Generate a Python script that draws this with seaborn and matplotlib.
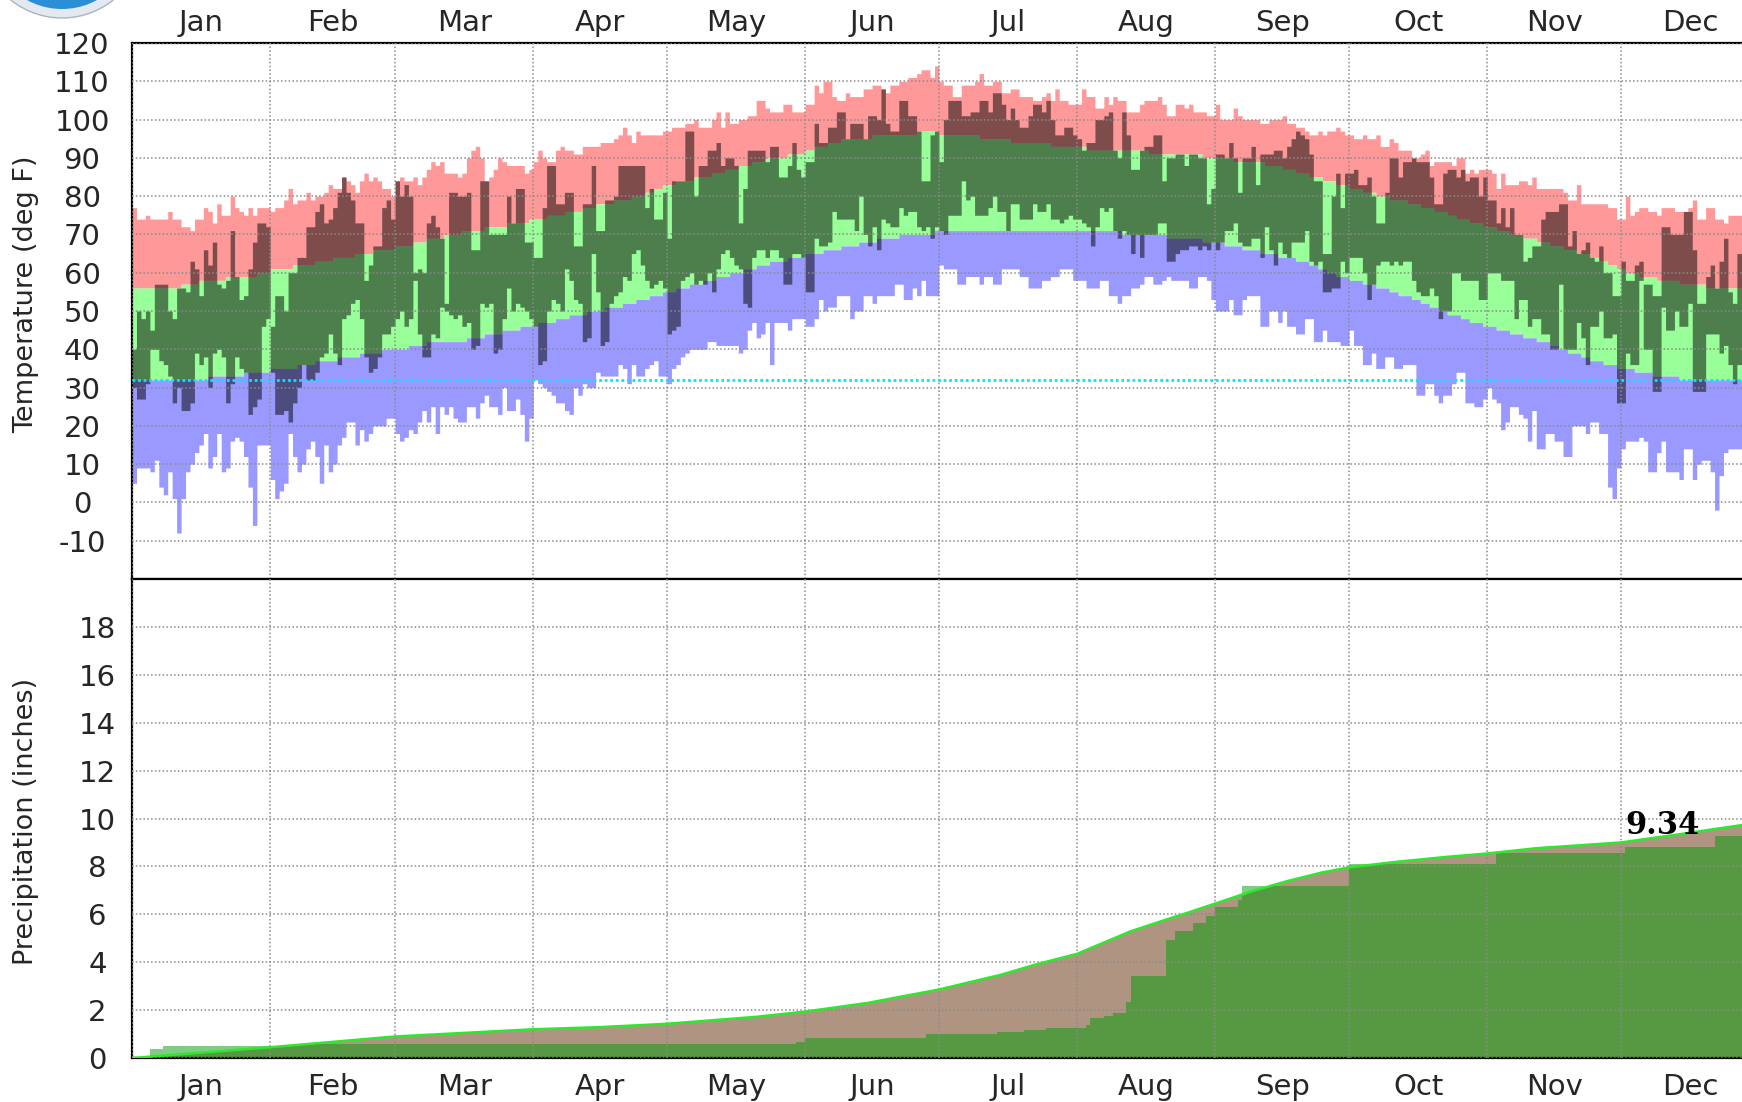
import numpy as np
import matplotlib
matplotlib.use("Agg")
import matplotlib.pyplot as plt
from matplotlib.patches import Ellipse
import seaborn as sns

months = ["Jan", "Feb", "Mar", "Apr", "May", "Jun", "Jul", "Aug", "Sep", "Oct", "Nov", "Dec"]
month_len = [31, 28, 31, 30, 31, 30, 31, 31, 30, 31, 30, 31]

# daily values, Jan 1 .. Dec 28 (deg F), one row per month
record_high = [
    77, 74, 74, 75, 74, 74, 74, 74, 76, 74, 74, 72, 72, 71, 74, 74, 77, 76, 73, 78, 75, 75, 80, 77, 76, 75, 77, 75, 77, 77, 77,
    76, 77, 77, 79, 82, 78, 79, 79, 81, 79, 80, 80, 81, 83, 82, 82, 85, 84, 83, 81, 84, 86, 84, 85, 84, 82, 82, 80,
    84, 85, 84, 84, 85, 83, 85, 87, 89, 88, 89, 86, 86, 86, 85, 86, 90, 92, 93, 90, 84, 85, 87, 90, 89, 88, 88, 88, 88, 86, 87,
    89, 92, 90, 89, 89, 92, 93, 92, 92, 91, 91, 93, 93, 93, 93, 94, 94, 94, 95, 96, 98, 96, 94, 97, 96, 96, 96, 96, 96, 97,
    97, 98, 98, 98, 99, 99, 100, 98, 98, 98, 100, 102, 98, 102, 99, 99, 100, 100, 101, 101, 105, 105, 103, 102, 102, 102, 104, 104, 102, 102, 102,
    104, 104, 109, 107, 110, 110, 106, 105, 105, 107, 106, 106, 106, 108, 108, 109, 109, 108, 107, 109, 109, 110, 110, 111, 111, 112, 113, 113, 111, 114,
    110, 109, 109, 106, 106, 109, 109, 109, 110, 112, 109, 109, 110, 110, 107, 107, 108, 108, 106, 106, 106, 105, 105, 106, 107, 105, 108, 105, 105, 104, 104,
    104, 108, 106, 106, 103, 103, 106, 104, 106, 105, 105, 102, 102, 102, 104, 105, 105, 105, 106, 104, 101, 101, 104, 104, 103, 104, 102, 102, 102, 101, 101,
    104, 100, 100, 100, 103, 101, 100, 100, 100, 100, 99, 99, 100, 100, 100, 101, 99, 99, 98, 98, 97, 96, 96, 97, 96, 97, 97, 98, 97, 96,
    96, 95, 95, 96, 95, 95, 96, 93, 93, 95, 94, 92, 92, 92, 90, 90, 91, 92, 88, 89, 89, 89, 89, 88, 90, 90, 86, 87, 86, 87, 87,
    87, 86, 82, 86, 83, 83, 83, 84, 84, 83, 85, 82, 82, 82, 82, 82, 82, 81, 79, 79, 83, 78, 78, 78, 78, 78, 78, 77, 77, 74,
    74, 80, 75, 76, 77, 77, 76, 76, 75, 77, 77, 77, 76, 76, 76, 77, 79, 74, 74, 77, 77, 74, 74, 73, 75, 75, 75, 75,
]
actual_high = [
    40, 50, 48, 50, 45, 57, 57, 57, 50, 48, 56, 56, 55, 63, 61, 54, 66, 62, 68, 57, 56, 58, 71, 59, 53, 54, 61, 68, 73, 73, 72,
    46, 54, 54, 50, 60, 60, 64, 64, 72, 72, 76, 78, 73, 74, 77, 81, 85, 81, 79, 73, 73, 58, 62, 67, 67, 77, 79, 74,
    84, 80, 83, 80, 60, 61, 60, 73, 75, 72, 69, 52, 81, 81, 80, 80, 81, 66, 66, 84, 84, 70, 70, 70, 70, 80, 73, 82, 82, 68, 68,
    64, 64, 77, 88, 88, 78, 78, 81, 81, 67, 67, 78, 78, 88, 71, 71, 79, 79, 80, 88, 88, 88, 88, 88, 88, 77, 82, 74, 74, 81,
    69, 84, 84, 84, 97, 97, 80, 88, 88, 92, 92, 94, 88, 90, 90, 88, 73, 82, 92, 92, 92, 92, 89, 93, 93, 85, 85, 88, 94, 87, 85,
    89, 89, 99, 94, 94, 98, 98, 102, 102, 95, 99, 99, 99, 95, 101, 101, 100, 108, 99, 97, 97, 105, 105, 101, 101, 97, 84, 84, 96, 97,
    89, 100, 105, 105, 105, 101, 101, 102, 102, 105, 105, 102, 107, 107, 104, 100, 103, 100, 98, 98, 101, 104, 104, 102, 105, 100, 96, 96, 98, 98, 96,
    95, 92, 94, 94, 100, 100, 101, 102, 92, 90, 102, 96, 87, 87, 92, 93, 93, 96, 96, 84, 90, 90, 91, 91, 88, 91, 91, 90, 90, 78, 82,
    91, 91, 90, 94, 90, 81, 90, 90, 93, 83, 91, 91, 91, 92, 92, 90, 93, 95, 97, 96, 95, 91, 84, 84, 65, 65, 80, 86, 77, 86,
    86, 87, 83, 83, 85, 80, 73, 73, 81, 90, 90, 85, 89, 89, 90, 89, 89, 89, 85, 78, 78, 86, 87, 87, 85, 87, 84, 85, 85, 80, 85,
    79, 79, 73, 77, 72, 77, 70, 70, 63, 64, 67, 67, 74, 76, 76, 76, 78, 78, 67, 71, 65, 66, 68, 64, 63, 67, 60, 60, 54, 54,
    63, 58, 58, 62, 63, 57, 57, 54, 54, 72, 72, 70, 70, 70, 76, 76, 66, 52, 52, 59, 62, 56, 63, 69, 55, 52, 65, 65,
]
actual_low = [
    30, 27, 27, 31, 40, 40, 37, 36, 33, 26, 30, 24, 24, 26, 39, 36, 38, 30, 39, 40, 38, 26, 31, 38, 35, 34, 23, 25, 27, 46, 48,
    34, 23, 23, 24, 21, 26, 30, 36, 32, 32, 34, 38, 39, 44, 39, 36, 48, 49, 52, 53, 48, 38, 34, 35, 38, 44, 44, 46,
    48, 50, 46, 48, 58, 44, 38, 38, 44, 43, 51, 50, 49, 48, 49, 46, 47, 40, 41, 52, 51, 52, 39, 40, 48, 56, 50, 52, 51, 50, 48,
    46, 36, 37, 50, 53, 52, 50, 61, 58, 53, 52, 42, 43, 65, 55, 41, 42, 52, 54, 55, 59, 58, 65, 66, 62, 58, 56, 57, 58, 56,
    44, 45, 46, 58, 59, 60, 57, 58, 57, 60, 55, 61, 65, 66, 64, 62, 61, 52, 51, 64, 66, 66, 64, 66, 66, 64, 57, 57, 65, 65, 64,
    55, 55, 69, 67, 67, 68, 76, 74, 74, 74, 74, 71, 80, 70, 67, 72, 66, 74, 73, 72, 72, 77, 75, 76, 76, 72, 71, 72, 69, 72,
    71, 70, 75, 75, 75, 84, 79, 80, 75, 75, 75, 77, 80, 76, 76, 71, 78, 78, 74, 74, 74, 78, 76, 76, 78, 74, 74, 73, 74, 75, 74,
    74, 73, 72, 67, 72, 77, 76, 77, 71, 69, 71, 70, 65, 70, 64, 70, 70, 70, 73, 73, 63, 63, 65, 66, 66, 67, 67, 66, 67, 66, 68,
    66, 68, 71, 71, 73, 68, 67, 67, 69, 69, 64, 72, 66, 62, 68, 65, 64, 68, 68, 68, 71, 63, 62, 63, 55, 55, 56, 56, 63, 60,
    64, 64, 64, 60, 53, 57, 62, 63, 63, 62, 63, 62, 63, 63, 58, 55, 54, 54, 56, 54, 48, 50, 50, 60, 60, 58, 58, 58, 58, 53, 53,
    60, 60, 60, 58, 58, 58, 48, 53, 53, 46, 48, 48, 44, 44, 40, 40, 57, 40, 40, 40, 47, 43, 36, 46, 46, 50, 43, 43, 44, 26,
    26, 39, 36, 36, 58, 40, 40, 29, 29, 51, 45, 45, 50, 46, 46, 52, 29, 29, 29, 44, 44, 44, 39, 41, 36, 31, 36, 36,
]
record_low = [
    5, 9, 9, 9, 8, 11, 4, 2, 8, 1, -8, 1, 8, 10, 13, 15, 18, 9, 12, 18, 8, 9, 16, 17, 16, 12, 4, -6, 15, 15, 15,
    6, 1, 3, 5, 18, 12, 8, 10, 14, 16, 12, 5, 15, 8, 10, 15, 17, 21, 21, 15, 19, 16, 18, 20, 20, 20, 22, 22,
    18, 16, 17, 19, 18, 21, 24, 21, 25, 18, 25, 23, 25, 22, 21, 21, 25, 25, 22, 26, 28, 25, 25, 23, 30, 24, 24, 27, 23, 16, 22,
    32, 31, 30, 29, 28, 26, 26, 24, 23, 30, 28, 31, 30, 30, 34, 33, 33, 33, 33, 36, 35, 31, 36, 33, 33, 35, 36, 37, 33, 33,
    31, 35, 36, 38, 39, 40, 40, 40, 40, 42, 42, 41, 41, 41, 41, 41, 39, 40, 45, 47, 43, 44, 47, 36, 47, 47, 47, 45, 48, 48, 48,
    46, 46, 48, 53, 50, 51, 51, 54, 54, 54, 48, 50, 50, 54, 54, 52, 54, 54, 54, 54, 57, 57, 53, 53, 56, 54, 58, 54, 54, 54,
    62, 61, 61, 61, 57, 57, 59, 59, 59, 57, 59, 59, 57, 57, 61, 61, 61, 61, 59, 59, 56, 56, 56, 58, 58, 59, 59, 61, 61, 61, 58,
    58, 58, 56, 56, 56, 58, 58, 54, 54, 52, 54, 54, 56, 56, 57, 59, 59, 57, 57, 58, 59, 58, 58, 58, 58, 56, 56, 59, 59, 58, 53,
    50, 50, 50, 53, 49, 49, 53, 54, 54, 54, 46, 46, 50, 50, 47, 50, 46, 46, 44, 44, 48, 48, 42, 42, 45, 42, 42, 42, 41, 41,
    45, 41, 41, 36, 36, 39, 35, 35, 38, 38, 35, 35, 36, 36, 36, 28, 28, 31, 31, 28, 26, 28, 28, 31, 34, 34, 26, 26, 25, 25, 27,
    30, 27, 26, 19, 21, 25, 25, 23, 22, 16, 24, 14, 14, 18, 18, 16, 16, 12, 12, 20, 20, 20, 18, 21, 21, 18, 18, 4, 1, 9,
    14, 16, 16, 16, 17, 16, 8, 8, 13, 16, 8, 8, 8, 6, 14, 14, 6, 10, 11, 11, 8, -2, 7, 13, 14, 14, 14, 14,
]

# normal high / low: value and the day (0 = Jan 1) it starts
normal_high_start = [0, 11, 15, 21, 28, 31, 36, 41, 45, 50, 54, 59, 63, 66, 70, 74, 79, 84, 89, 93, 97, 101, 104, 108, 112,
                     115, 117, 119, 122, 126, 130, 133, 136, 139, 142, 147, 151, 153, 156, 159, 166, 176, 181, 190, 197,
                     206, 214, 228, 240, 247, 254, 258, 261, 264, 267, 270, 273, 276, 279, 282, 286, 289, 292, 295, 297,
                     300, 303, 306, 309, 312, 315, 318, 321, 324, 327, 329, 331, 333, 335, 338, 342, 347, 353]
normal_high_value = [56, 57, 58, 59, 60, 61, 62, 63, 64, 65, 66, 67, 68, 69, 70, 71, 72, 73, 74, 75, 76, 77, 78, 79, 80,
                     81, 82, 83, 84, 85, 86, 87, 88, 89, 90, 91, 92, 93, 94, 95, 96, 97, 96, 95, 94,
                     93, 92, 91, 90, 89, 88, 87, 86, 85, 84, 83, 82, 81, 80, 79, 78, 77, 76, 75, 74,
                     73, 72, 71, 70, 69, 68, 67, 66, 65, 64, 63, 62, 61, 60, 59, 58, 57, 56]
normal_low_start = [0, 17, 25, 31, 37, 41, 46, 51, 56, 62, 66, 75, 79, 83, 87, 91, 95, 98, 102, 106, 110, 113, 116, 119,
                    122, 125, 128, 131, 134, 137, 140, 143, 147, 151, 155, 159, 163, 167, 172, 180, 222, 232, 240, 245,
                    249, 253, 257, 261, 264, 266, 268, 270, 273, 276, 279, 282, 284, 287, 289, 291, 293, 295, 298, 300,
                    303, 306, 309, 312, 315, 318, 320, 322, 325, 327, 330, 333, 337, 341, 347]
normal_low_value = [32, 33, 34, 35, 36, 37, 38, 39, 40, 41, 42, 43, 44, 45, 46, 47, 48, 49, 50, 51, 52, 53, 54, 55,
                    56, 57, 58, 59, 60, 61, 62, 63, 64, 65, 66, 67, 68, 69, 70, 71, 70, 69, 68, 67,
                    66, 65, 64, 63, 62, 61, 60, 59, 58, 57, 56, 55, 54, 53, 52, 51, 50, 49, 48, 47,
                    46, 45, 44, 43, 42, 41, 40, 39, 38, 37, 36, 35, 34, 33, 32]

# cumulative precipitation (inches)
precip_normal_day = [0, 31, 59, 90, 105, 120, 140, 151, 165, 181, 195, 203, 212, 224, 231, 237, 243, 251, 259, 267,
                     273, 283, 295, 304, 315, 323, 334, 347, 362]
precip_normal = [0, 0.45, 0.9, 1.2, 1.29, 1.43, 1.72, 1.94, 2.3, 2.86, 3.48, 3.92, 4.35, 5.29, 5.72, 6.08, 6.45, 6.95,
                 7.38, 7.75, 7.96, 8.18, 8.4, 8.54, 8.76, 8.86, 9.0, 9.34, 9.75]
precip_day = [0, 4, 7, 38, 149, 151, 178, 194, 200, 205, 214, 215, 218, 220, 223, 224, 232, 234, 238, 241, 243, 248,
              249, 273, 306, 335, 355]
precip_total = [0.05, 0.38, 0.52, 0.59, 0.66, 0.84, 1.0, 1.1, 1.17, 1.24, 1.39, 1.68, 1.75, 1.86, 2.33, 3.41, 4.93,
                5.29, 5.65, 5.94, 6.3, 6.59, 7.17, 8.1, 8.54, 8.83, 9.26]
total_label = "9.34"

sns.set_theme(style="white")
plt.rcParams["font.family"] = ["DejaVu Sans"]
plt.rcParams["axes.unicode_minus"] = False

rh = np.array(record_high)
ah = np.array(actual_high)
al = np.array(actual_low)
rl = np.array(record_low)
n = len(rh)
nh = np.repeat(normal_high_value, np.diff(normal_high_start + [n]))
nl = np.repeat(normal_low_value, np.diff(normal_low_start + [n]))
edges = np.arange(n + 1)


def steps(v):
    return np.append(v, v[-1])


fig = plt.figure(figsize=(17.42, 11.02), dpi=100)
ax1 = fig.add_axes([0.0758, 0.4746, 0.9366, 0.4864])
ax2 = fig.add_axes([0.0758, 0.0399, 0.9366, 0.4347])

# temperature bands
ax1.fill_between(edges, steps(nh), steps(rh), step="post", color="#ff9999", lw=0)
ax1.fill_between(edges, steps(nl), steps(nh), step="post", color="#99ff99", lw=0)
ax1.fill_between(edges, steps(rl), steps(nl), step="post", color="#9999ff", lw=0)
ax1.fill_between(edges, steps(al), steps(ah), step="post", color="black", alpha=0.5, lw=0)
ax1.axhline(32, color="#00e8ff", lw=2, ls=(0, (1, 1)), zorder=3)

# precipitation
ax2.fill_between(precip_normal_day, 0, precip_normal, color="#b09482", lw=0)
ax2.fill_between(precip_day + [n], 0, precip_total + [precip_total[-1]], step="post",
                 color="#009c06", alpha=0.5, lw=0)
sns.lineplot(x=precip_normal_day, y=precip_normal, ax=ax2, color="#2ee82e", lw=1.8, zorder=3)
ax2.text(335, 9.35, total_label, fontfamily="DejaVu Serif", fontweight="bold", fontsize=22, color="black")

tick_size = 21
bounds = np.cumsum([0] + month_len)
mids = (bounds[:-1] + bounds[1:]) / 2
for ax in (ax1, ax2):
    ax.set_xlim(0, 366)
    ax.set_xticks(bounds)
    ax.xaxis.set_major_formatter(matplotlib.ticker.NullFormatter())
    ax.set_xticks(mids, minor=True)
    ax.set_xticklabels(months, minor=True, fontsize=tick_size)
    ax.tick_params(which="both", length=0)
    ax.grid(True, which="major", color="#8a8a8a", lw=1.1, ls=(0, (1, 1.5)))
    ax.set_axisbelow(False)
    ax.set_xlabel("")
    for s in ax.spines.values():
        s.set_color("black")
        s.set_linewidth(1.6)

ax1.tick_params(axis="x", which="both", top=True, labeltop=True, bottom=False, labelbottom=False, pad=4)
ax2.tick_params(axis="x", which="both", pad=11)

ax1.set_ylim(-20, 120)
ax1.set_yticks(range(-10, 121, 10))
ax1.tick_params(axis="y", labelsize=tick_size, pad=36)
ax2.set_ylim(0, 20)
ax2.set_yticks(range(0, 19, 2))
ax2.tick_params(axis="y", labelsize=tick_size, pad=25)
for ax in (ax1, ax2):
    for t in ax.get_yticklabels():
        t.set_horizontalalignment("center")

ax1.set_ylabel("Temperature (deg F)", fontsize=19.5)
ax1.yaxis.set_label_coords(-0.057, 0.532)
ax2.set_ylabel("Precipitation (inches)", fontsize=19.5)
ax2.yaxis.set_label_coords(-0.057, 0.493)

# logo peeking in at the top-left corner
fig.add_artist(Ellipse((62 / 1742, 1 + 64 / 1102), 164 / 1742, 164 / 1102, transform=fig.transFigure,
                       facecolor="#e3e9f0", edgecolor="#a8b4c4", lw=1))
fig.add_artist(Ellipse((62 / 1742, 1 + 64 / 1102), 146 / 1742, 146 / 1102, transform=fig.transFigure,
                       facecolor="#2a8fd6", edgecolor="none"))

fig.savefig("out.png", dpi=100)
